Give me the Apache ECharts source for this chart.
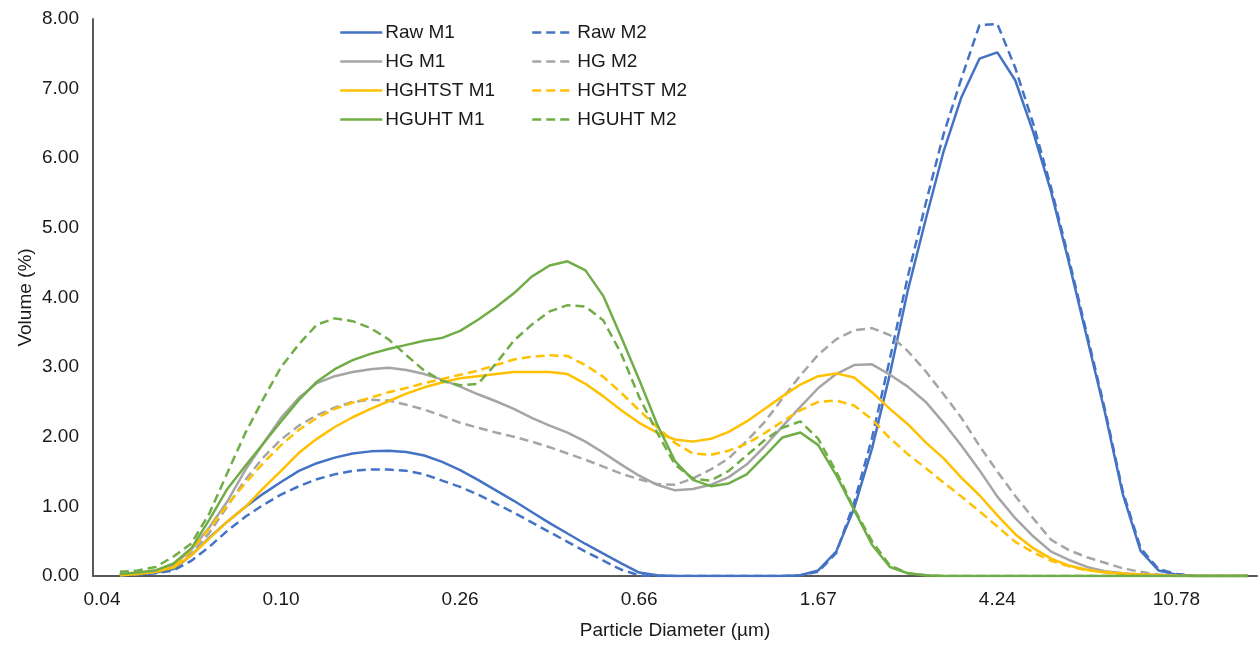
<!DOCTYPE html>
<html>
<head>
<meta charset="utf-8">
<script src="https://cdn.jsdelivr.net/npm/echarts@6/dist/echarts.min.js"></script>
<style>
  html, body { margin: 0; padding: 0; background: #fff; }
  #chart { width: 1260px; height: 645px; }
</style>
</head>
<body>
<div id="chart"></div>
<script>
// particle diameter classes (µm), one every category, labelled every 10th
const diameters = [
  0.04, 0.04, 0.05, 0.05, 0.06, 0.06, 0.07, 0.08, 0.08, 0.09,
  0.10, 0.11, 0.12, 0.13, 0.15, 0.16, 0.18, 0.20, 0.21, 0.24,
  0.26, 0.28, 0.31, 0.34, 0.37, 0.41, 0.45, 0.50, 0.54, 0.60,
  0.66, 0.72, 0.79, 0.87, 0.95, 1.05, 1.15, 1.26, 1.38, 1.52,
  1.67, 1.83, 2.01, 2.21, 2.42, 2.66, 2.92, 3.21, 3.52, 3.86,
  4.24, 4.65, 5.11, 5.61, 6.16, 6.76, 7.42, 8.15, 8.95, 9.82,
  10.78, 11.83, 12.99, 14.26, 15.65
];

// volume (%) per class
const rawM1 = [
  null, 0.01, 0.02, 0.05, 0.10, 0.30, 0.55, 0.78, 0.99, 1.18,
  1.35, 1.51, 1.62, 1.70, 1.76, 1.79, 1.80, 1.78, 1.73, 1.64,
  1.52, 1.38, 1.23, 1.08, 0.92, 0.76, 0.61, 0.46, 0.32, 0.18,
  0.05, 0.01, 0, 0, 0, 0, 0, 0, 0, 0.01,
  0.08, 0.35, 0.97, 1.83, 2.90, 4.10, 5.12, 6.10, 6.88, 7.43,
  7.52, 7.12, 6.38, 5.52, 4.50, 3.43, 2.36, 1.18, 0.36, 0.08,
  0.02, 0, 0, 0, 0
];
const rawM2 = [
  null, 0.01, 0.02, 0.04, 0.08, 0.22, 0.42, 0.65, 0.85, 1.02,
  1.17, 1.29, 1.39, 1.46, 1.51, 1.53, 1.53, 1.51, 1.46, 1.37,
  1.28, 1.17, 1.04, 0.91, 0.77, 0.63, 0.49, 0.35, 0.22, 0.09,
  0.01, 0, 0, 0, 0, 0, 0, 0, 0, 0.01,
  0.06, 0.33, 1.05, 1.98, 3.12, 4.30, 5.35, 6.35, 7.15, 7.91,
  7.93, 7.30, 6.50, 5.58, 4.55, 3.48, 2.40, 1.22, 0.40, 0.10,
  0.03, 0, 0, 0, 0
];
const hgM1 = [
  null, 0.02, 0.04, 0.08, 0.16, 0.38, 0.70, 1.07, 1.52, 1.90,
  2.27, 2.56, 2.77, 2.87, 2.93, 2.97, 2.99, 2.96, 2.90, 2.82,
  2.72, 2.61, 2.51, 2.40, 2.27, 2.16, 2.06, 1.93, 1.77, 1.60,
  1.44, 1.31, 1.23, 1.25, 1.31, 1.42, 1.60, 1.86, 2.15, 2.43,
  2.70, 2.90, 3.03, 3.04, 2.89, 2.72, 2.50, 2.20, 1.87, 1.52,
  1.14, 0.83, 0.57, 0.35, 0.23, 0.13, 0.07, 0.04, 0.02, 0.01,
  0, 0, 0, 0, 0
];
const hgM2 = [
  null, 0.02, 0.04, 0.07, 0.14, 0.33, 0.62, 1.00, 1.38, 1.70,
  1.96, 2.16, 2.31, 2.42, 2.50, 2.53, 2.52, 2.46, 2.39, 2.30,
  2.20, 2.13, 2.06, 2.00, 1.93, 1.85, 1.76, 1.67, 1.57, 1.47,
  1.39, 1.32, 1.31, 1.40, 1.53, 1.69, 1.94, 2.21, 2.55, 2.88,
  3.18, 3.40, 3.53, 3.56, 3.46, 3.23, 2.94, 2.61, 2.27, 1.87,
  1.50, 1.15, 0.83, 0.52, 0.37, 0.27, 0.19, 0.11, 0.06, 0.02,
  0.01, 0, 0, 0, 0
];
const hghtstM1 = [
  null, 0.01, 0.03, 0.06, 0.12, 0.30, 0.54, 0.78, 0.99, 1.26,
  1.51, 1.77, 1.97, 2.14, 2.28, 2.40, 2.51, 2.62, 2.71, 2.78,
  2.84, 2.87, 2.90, 2.93, 2.93, 2.93, 2.90, 2.76, 2.58, 2.38,
  2.20, 2.06, 1.96, 1.93, 1.97, 2.07, 2.22, 2.40, 2.58, 2.75,
  2.87, 2.91, 2.85, 2.64, 2.40, 2.18, 1.92, 1.69, 1.41, 1.16,
  0.87, 0.60, 0.40, 0.25, 0.15, 0.09, 0.05, 0.03, 0.02, 0.01,
  0, 0, 0, 0, 0
];
const hghtstM2 = [
  null, 0.01, 0.03, 0.06, 0.14, 0.38, 0.68, 1.02, 1.33, 1.62,
  1.88, 2.10, 2.27, 2.40, 2.49, 2.56, 2.64, 2.70, 2.77, 2.83,
  2.89, 2.95, 3.03, 3.11, 3.15, 3.17, 3.16, 3.03, 2.86, 2.63,
  2.38, 2.14, 1.91, 1.76, 1.74, 1.80, 1.90, 2.05, 2.22, 2.38,
  2.50, 2.52, 2.45, 2.25, 1.98, 1.75, 1.55, 1.34, 1.14, 0.93,
  0.71, 0.49, 0.34, 0.22, 0.14, 0.08, 0.06, 0.04, 0.02, 0.01,
  0, 0, 0, 0, 0
];
const hguhtM1 = [
  null, 0.03, 0.05, 0.08, 0.18, 0.40, 0.81, 1.25, 1.58, 1.90,
  2.22, 2.53, 2.79, 2.97, 3.10, 3.19, 3.26, 3.32, 3.38, 3.42,
  3.52, 3.68, 3.86, 4.06, 4.30, 4.46, 4.52, 4.39, 4.02, 3.43,
  2.82, 2.18, 1.65, 1.38, 1.29, 1.33, 1.46, 1.72, 1.99, 2.06,
  1.88, 1.45, 0.95, 0.45, 0.13, 0.04, 0.01, 0, 0, 0,
  0, 0, 0, 0, 0, 0, 0, 0, 0, 0,
  0, 0, 0, 0, 0
];
const hguhtM2 = [
  null, 0.06, 0.08, 0.13, 0.28, 0.47, 0.90, 1.48, 2.05, 2.54,
  3.00, 3.33, 3.61, 3.70, 3.66, 3.56, 3.40, 3.17, 2.95, 2.80,
  2.74, 2.76, 3.05, 3.38, 3.61, 3.80, 3.89, 3.87, 3.67, 3.19,
  2.57, 2.06, 1.60, 1.40, 1.37, 1.51, 1.73, 1.95, 2.13, 2.22,
  1.97, 1.50, 0.97, 0.50, 0.15, 0.04, 0.01, 0, 0, 0,
  0, 0, 0, 0, 0, 0, 0, 0, 0, 0,
  0, 0, 0, 0, 0
];

const seriesDefs = [
  { name: 'Raw M1', data: rawM1, color: '#4472C4', dashed: false },
  { name: 'Raw M2', data: rawM2, color: '#4472C4', dashed: true },
  { name: 'HG M1', data: hgM1, color: '#A5A5A5', dashed: false },
  { name: 'HG M2', data: hgM2, color: '#A5A5A5', dashed: true },
  { name: 'HGHTST M1', data: hghtstM1, color: '#FFC000', dashed: false },
  { name: 'HGHTST M2', data: hghtstM2, color: '#FFC000', dashed: true },
  { name: 'HGUHT M1', data: hguhtM1, color: '#70AD47', dashed: false },
  { name: 'HGUHT M2', data: hguhtM2, color: '#70AD47', dashed: true },
];

const font = 'Liberation Sans';
const textColor = '#1a1a1a';
const fontSize = 19;

const chart = echarts.init(document.getElementById('chart'));

// legend in two columns, M1 left, M2 right
const legendBase = {
  orient: 'vertical',
  top: 23,
  padding: 0,
  itemWidth: 42,
  itemHeight: 14,
  itemGap: 10,
  itemStyle: { opacity: 0 },
  lineStyle: { width: 2.5 },
  textStyle: { fontFamily: font, fontSize: fontSize, color: textColor, padding: [0, 0, 0, -2] },
};

chart.setOption({
  animation: false,
  backgroundColor: '#fff',
  grid: { left: 93, right: 3, top: 19, bottom: 66 },
  legend: [
    Object.assign({ left: 339, data: seriesDefs.filter(s => !s.dashed).map(s => s.name) }, legendBase),
    Object.assign({ left: 531, data: seriesDefs.filter(s => s.dashed).map(s => s.name) }, legendBase),
  ],
  xAxis: {
    type: 'category',
    data: diameters.map(d => d.toFixed(2)),
    boundaryGap: true,
    name: 'Particle Diameter (µm)',
    nameLocation: 'middle',
    nameGap: 45,
    nameMoveOverlap: false,
    nameTextStyle: { fontFamily: font, fontSize: fontSize, color: textColor },
    axisLine: { lineStyle: { color: '#595959', width: 2 } },
    axisTick: { show: false },
    axisLabel: { interval: 9, margin: 14, fontFamily: font, fontSize: fontSize, color: textColor },
    splitLine: { show: false },
  },
  yAxis: {
    type: 'value',
    min: 0,
    max: 8,
    interval: 1,
    name: 'Volume (%)',
    nameLocation: 'middle',
    nameGap: 58,
    nameMoveOverlap: false,
    nameTextStyle: { fontFamily: font, fontSize: fontSize, color: textColor },
    axisLine: { show: true, lineStyle: { color: '#595959', width: 2 } },
    axisTick: { show: false },
    axisLabel: { margin: 14, fontFamily: font, fontSize: fontSize, color: textColor, formatter: v => v.toFixed(2) },
    splitLine: { show: false },
  },
  series: seriesDefs.map(s => ({
    name: s.name,
    type: 'line',
    data: s.data,
    symbol: 'none',
    color: s.color,
    lineStyle: { color: s.color, width: 2.5, type: s.dashed ? [9, 5] : 'solid' },
  })),
});
</script>
</body>
</html>
